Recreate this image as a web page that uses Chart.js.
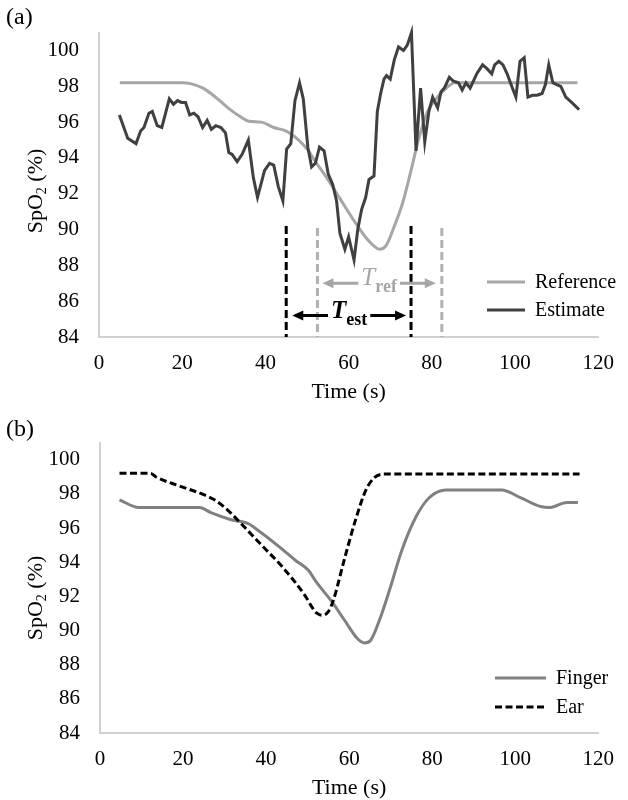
<!DOCTYPE html>
<html>
<head>
<meta charset="utf-8">
<script src="https://cdn.jsdelivr.net/npm/chart.js@4.4.1/dist/chart.umd.min.js"></script>
<style>
  html, body { margin: 0; padding: 0; background: #fff; }
  .panel { position: relative; width: 628px; }
  canvas { display: block; }
</style>
</head>
<body>
<div class="panel"><canvas id="chartA" width="628" height="410"></canvas></div>
<div class="panel"><canvas id="chartB" width="628" height="390"></canvas></div>
<script>
// ---- data ----
const xTicks = [0, 20, 40, 60, 80, 100, 120];
const yTicks = [84, 86, 88, 90, 92, 94, 96, 98, 100];

// (a) reference vs estimate
const refTime = [5, 10, 15, 20, 22, 25, 28, 31, 34, 36, 39, 42, 45, 48, 50, 52, 55, 58, 61, 64, 66, 67.5, 69, 71, 73, 75, 77, 79, 81, 83, 85.5, 90, 95, 100, 105, 110, 115];
const refSpO2 = [98.2, 98.2, 98.2, 98.2, 98.15, 97.9, 97.4, 96.8, 96.3, 96.05, 96.0, 95.7, 95.5, 95.0, 94.5, 93.8, 92.8, 91.7, 90.6, 89.6, 89.1, 88.9, 89.1, 90.2, 91.5, 93.3, 95.2, 96.6, 97.3, 97.8, 98.2, 98.2, 98.2, 98.2, 98.2, 98.2, 98.2];

const estTime = [4.9, 6.9, 8.9, 10, 10.8, 12, 12.8, 14, 15.1, 16.9, 17.9, 18.9, 19.8, 20.8, 21.8, 22.8, 23.8, 24.9, 26, 27, 28.1, 29.3, 30.4, 31.2, 32, 33.2, 34.4, 35.9, 37.1, 38.1, 39.8, 41, 42, 43.1, 44.2, 45.1, 46.1, 47.1, 48.2, 49.1, 50.2, 51.1, 52, 53, 54.1, 55.1, 56.2, 57.1, 57.9, 59.1, 60, 61.3, 62.2, 63.1, 64.1, 64.9, 66.1, 66.9, 67.7, 68.5, 69.1, 70, 71, 72, 73.2, 74.1, 75.1, 76.2, 77.3, 78.3, 79.3, 80.2, 81.4, 82.2, 83, 84.2, 85.1, 86.4, 87.3, 88.2, 89.2, 90.8, 92.2, 93.2, 94.4, 95.1, 96.1, 97.1, 98.1, 99.2, 100.2, 101.2, 102.2, 103.1, 104.2, 105.3, 106.5, 107.3, 108.1, 109.1, 110, 111, 112.2, 113.6, 115.4];
const estSpO2 = [96.4, 95.1, 94.8, 95.5, 95.7, 96.5, 96.6, 95.8, 95.7, 97.3, 97.0, 97.2, 97.1, 97.1, 96.4, 96.5, 96.3, 95.7, 96.1, 95.6, 95.8, 95.7, 95.4, 94.3, 94.2, 93.8, 94.2, 95.0, 92.9, 91.8, 93.3, 93.7, 93.6, 92.4, 91.6, 94.5, 94.8, 97.2, 98.2, 97.3, 94.6, 93.5, 93.7, 94.6, 94.4, 93.1, 92.5, 91.6, 89.8, 88.9, 89.6, 88.3, 90.0, 91.1, 91.8, 92.8, 93.0, 96.6, 97.6, 98.4, 98.6, 98.4, 99.5, 100.2, 100.0, 100.3, 101.0, 94.4, 97.9, 94.9, 96.6, 97.4, 96.8, 97.7, 97.9, 98.5, 98.3, 98.2, 97.8, 98.2, 97.9, 98.7, 99.2, 99.0, 98.7, 99.2, 99.4, 99.2, 98.7, 98.0, 97.4, 99.4, 99.6, 97.4, 97.5, 97.5, 97.6, 98.1, 99.2, 98.2, 98.1, 98.0, 97.4, 97.1, 96.7];

// desaturation interval markers (s) and annotation levels (%)
const estMarkers = [45, 75];
const refMarkers = [52.5, 82.4];
const markerTop = 90.2;
const refArrowLevel = 87.0;
const estArrowLevel = 85.2;

// (b) finger vs ear
const fingerTime = [4.7, 9.4, 24, 26.7, 31.4, 35.8, 37.3, 43.2, 47.1, 50.3, 51.9, 55.8, 58.9, 62.1, 63.7, 65.2, 67.6, 69.9, 72.7, 76.2, 79.4, 83.3, 90, 96.7, 101.4, 106.1, 108.4, 112.4, 115.1];
const fingerSpO2 = [97.65, 97.2, 97.2, 96.9, 96.5, 96.25, 96.0, 94.9, 94.1, 93.5, 92.9, 91.7, 90.6, 89.5, 89.27, 89.43, 90.8, 92.5, 94.7, 96.7, 97.8, 98.23, 98.23, 98.23, 97.76, 97.26, 97.2, 97.5, 97.5];

const earTime = [4.7, 12.2, 13.4, 18.9, 25.1, 27.9, 31.4, 34.6, 39.3, 44, 49.5, 51.1, 52.3, 53.4, 55, 56.2, 59, 61.7, 64, 66, 68.4, 80, 100, 115.5];
const earSpO2 = [99.2, 99.2, 99.0, 98.48, 97.94, 97.6, 96.9, 96.1, 94.9, 93.7, 92.0, 91.35, 91.0, 90.9, 91.1, 91.77, 94.3, 96.6, 98.2, 98.93, 99.16, 99.16, 99.16, 99.16];

// ---- helpers ----
const SERIF = '"Liberation Serif", "Times New Roman", serif';
const toPts = (xs, ys) => xs.map((x, i) => ({ x: x, y: ys[i] }));

function drawYTitle(ctx, x, y) {
  ctx.save();
  ctx.translate(x, y);
  ctx.rotate(-Math.PI / 2);
  ctx.fillStyle = '#000';
  ctx.textBaseline = 'alphabetic';
  const big = '22px ' + SERIF, small = '14px ' + SERIF;
  ctx.font = big;
  const w1 = ctx.measureText('SpO').width;
  const w3 = ctx.measureText(' (%)').width;
  ctx.font = small;
  const w2 = ctx.measureText('2').width;
  let cx = -(w1 + w2 + w3) / 2;
  const base = 7;
  ctx.font = big; ctx.fillText('SpO', cx, base); cx += w1;
  ctx.font = small; ctx.fillText('2', cx, base + 4); cx += w2;
  ctx.font = big; ctx.fillText(' (%)', cx, base);
  ctx.restore();
}

function drawPanelLabel(ctx, text, x, y) {
  ctx.save();
  ctx.font = '24px ' + SERIF;
  ctx.fillStyle = '#000';
  ctx.textBaseline = 'middle';
  ctx.textAlign = 'left';
  ctx.fillText(text, x, y);
  ctx.restore();
}

function drawLegend(ctx, items, x1, x2, y0, dy) {
  ctx.save();
  items.forEach((it, i) => {
    const y = y0 + i * dy;
    ctx.beginPath();
    ctx.strokeStyle = it.color;
    ctx.lineWidth = 3;
    ctx.setLineDash(it.dash || []);
    ctx.moveTo(x1, y);
    ctx.lineTo(x2, y);
    ctx.stroke();
    ctx.setLineDash([]);
    ctx.font = '20px ' + SERIF;
    ctx.fillStyle = '#000';
    ctx.textBaseline = 'middle';
    ctx.textAlign = 'left';
    ctx.fillText(it.label, x2 + 10, y + 1);
  });
  ctx.restore();
}

function arrowHead(ctx, x, y, dir) {
  ctx.beginPath();
  ctx.moveTo(x, y);
  ctx.lineTo(x - dir * 11, y - 5);
  ctx.lineTo(x - dir * 11, y + 5);
  ctx.closePath();
  ctx.fill();
}

function drawSpan(ctx, xl, xr, y, color, main, sub, mainFont, subFont) {
  ctx.save();
  ctx.font = mainFont;
  const wm = ctx.measureText(main).width;
  ctx.font = subFont;
  const ws = ctx.measureText(sub).width;
  const tw = wm + ws;
  const cx = (xl + xr) / 2;
  const gl = cx - tw / 2 - 3, gr = cx + tw / 2 + 3;
  ctx.strokeStyle = color;
  ctx.fillStyle = color;
  ctx.lineWidth = 3;
  ctx.beginPath();
  ctx.moveTo(xl + 8, y); ctx.lineTo(gl, y);
  ctx.moveTo(gr, y); ctx.lineTo(xr - 8, y);
  ctx.stroke();
  arrowHead(ctx, xl, y, -1);
  arrowHead(ctx, xr, y, 1);
  ctx.textBaseline = 'alphabetic';
  ctx.textAlign = 'left';
  ctx.font = mainFont;
  ctx.fillText(main, cx - tw / 2, y + 2);
  ctx.font = subFont;
  ctx.fillText(sub, cx - tw / 2 + wm, y + 9);
  ctx.restore();
}

function vDash(ctx, x, yTop, yBot, color) {
  ctx.save();
  ctx.strokeStyle = color;
  ctx.lineWidth = 3;
  ctx.setLineDash([8, 4]);
  ctx.beginPath();
  ctx.moveTo(x, yTop);
  ctx.lineTo(x, yBot);
  ctx.stroke();
  ctx.restore();
}

function axes(areaLeft, xHeight, titlePadBottom) {
  const tickFont = { family: SERIF, size: 21 };
  return {
    x: {
      type: 'linear', min: 0, max: 120,
      afterBuildTicks: s => { s.ticks = xTicks.map(v => ({ value: v })); },
      afterFit: s => { s.height = xHeight; },
      grid: { drawOnChartArea: false, drawTicks: false },
      border: { display: true, color: '#d0d0d0', width: 2 },
      ticks: { font: tickFont, color: '#000', padding: 14, maxRotation: 0 },
      title: { display: true, text: 'Time (s)', color: '#000',
               font: { family: SERIF, size: 22, lineHeight: 1 },
               padding: { top: 0, bottom: titlePadBottom } }
    },
    y: {
      type: 'linear', min: 84, max: 101,
      afterBuildTicks: s => { s.ticks = yTicks.map(v => ({ value: v })); },
      afterFit: s => { s.width = areaLeft; },
      grid: { drawOnChartArea: false, drawTicks: false },
      border: { display: true, color: '#d0d0d0', width: 2 },
      ticks: { font: tickFont, color: '#000', padding: 20 }
    }
  };
}

// ---- chart (a) ----
const decorA = {
  id: 'decorA',
  afterDraw(chart) {
    const ctx = chart.ctx;
    const sx = chart.scales.x, sy = chart.scales.y;
    const yTop = sy.getPixelForValue(markerTop), yBot = sy.getPixelForValue(84);
    estMarkers.forEach(t => vDash(ctx, sx.getPixelForValue(t), yTop, yBot, '#000'));
    refMarkers.forEach(t => vDash(ctx, sx.getPixelForValue(t), yTop + 2, yBot, '#b0b0b0'));
    drawSpan(ctx, sx.getPixelForValue(refMarkers[0]) + 5, sx.getPixelForValue(refMarkers[1]) - 6,
      sy.getPixelForValue(refArrowLevel), '#a6a6a6', 'T', 'ref',
      'italic 25px ' + SERIF, 'bold 18px ' + SERIF);
    drawSpan(ctx, sx.getPixelForValue(estMarkers[0]) + 6, sx.getPixelForValue(estMarkers[1]) - 5,
      sy.getPixelForValue(estArrowLevel), '#000', 'T', 'est',
      'bold italic 25px ' + SERIF, 'bold 18px ' + SERIF);
    drawLegend(ctx, [
      { label: 'Reference', color: '#a6a6a6' },
      { label: 'Estimate', color: '#404040' }
    ], 487, 525, 282, 28);
    drawYTitle(ctx, 35, 191);
    drawPanelLabel(ctx, '(a)', 6, 18);
  }
};

new Chart(document.getElementById('chartA').getContext('2d'), {
  type: 'scatter',
  data: {
    datasets: [{
      label: 'Estimate',
      data: toPts(estTime, estSpO2),
      showLine: true, borderColor: '#404040', borderWidth: 3,
      pointRadius: 0, tension: 0, clip: false
    }, {
      label: 'Reference',
      data: toPts(refTime, refSpO2),
      showLine: true, borderColor: '#a6a6a6', borderWidth: 3,
      pointRadius: 0, cubicInterpolationMode: 'monotone', clip: false
    }]
  },
  options: {
    responsive: false, animation: false, devicePixelRatio: 1,
    layout: { padding: { top: 31, right: 19, left: 0, bottom: 0 } },
    scales: axes(99, 73, 7),
    plugins: { legend: { display: false }, tooltip: { enabled: false } }
  },
  plugins: [decorA]
});

// ---- chart (b) ----
const decorB = {
  id: 'decorB',
  afterDraw(chart) {
    const ctx = chart.ctx;
    drawLegend(ctx, [
      { label: 'Finger', color: '#808080' },
      { label: 'Ear', color: '#000', dash: [7, 3.5] }
    ], 495, 546, 268, 29);
    drawYTitle(ctx, 35, 188);
    drawPanelLabel(ctx, '(b)', 6, 20);
  }
};

new Chart(document.getElementById('chartB').getContext('2d'), {
  type: 'scatter',
  data: {
    datasets: [{
      label: 'Ear',
      data: toPts(earTime, earSpO2),
      showLine: true, borderColor: '#000', borderWidth: 3, borderDash: [7, 3.5],
      pointRadius: 0, cubicInterpolationMode: 'monotone', clip: false
    }, {
      label: 'Finger',
      data: toPts(fingerTime, fingerSpO2),
      showLine: true, borderColor: '#808080', borderWidth: 3,
      pointRadius: 0, cubicInterpolationMode: 'monotone', clip: false
    }]
  },
  options: {
    responsive: false, animation: false, devicePixelRatio: 1,
    layout: { padding: { top: 32, right: 19, left: 0, bottom: 0 } },
    scales: axes(100, 67, 1),
    plugins: { legend: { display: false }, tooltip: { enabled: false } }
  },
  plugins: [decorB]
});
</script>
</body>
</html>
